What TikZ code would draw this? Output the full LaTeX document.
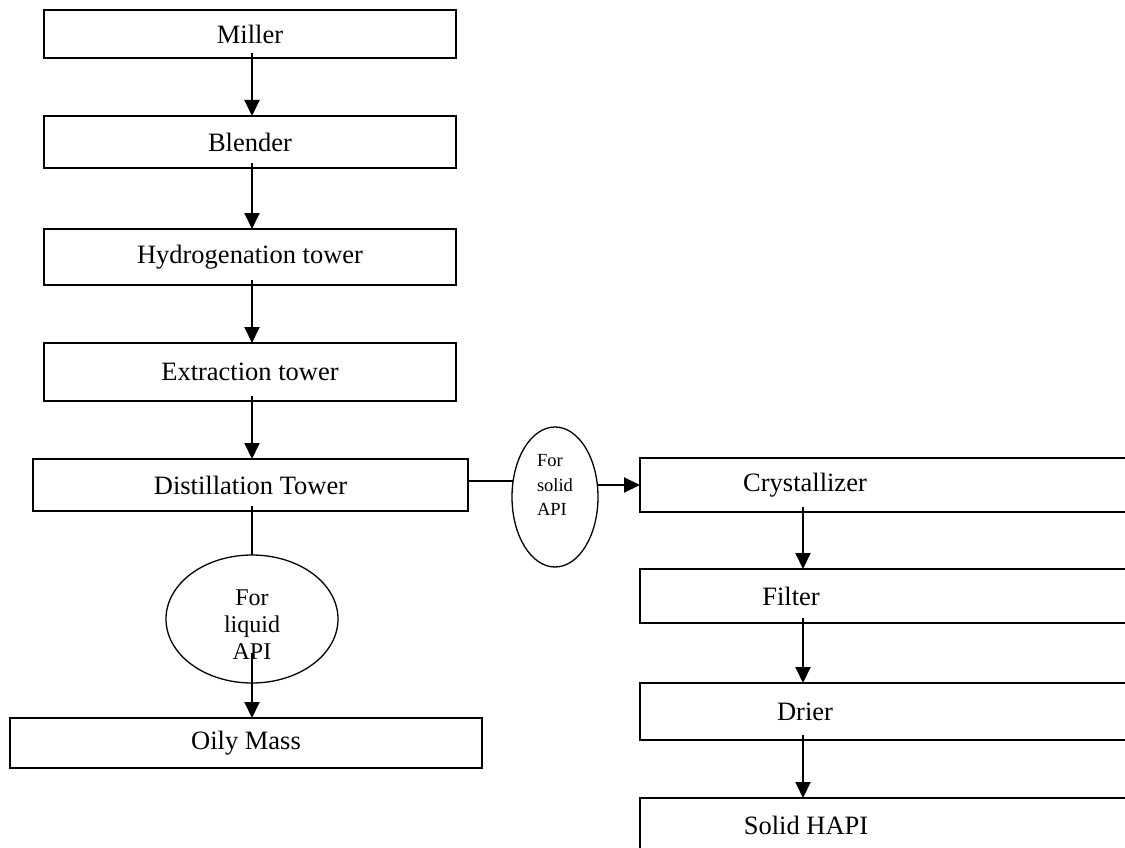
\documentclass[tikz,border=0pt]{standalone}
\usepackage{fontspec}
\setmainfont{Liberation Serif}
\usetikzlibrary{shapes.geometric,arrows.meta,calc}
\begin{document}
\begin{tikzpicture}[x=1pt,y=-1pt,
  box/.style={draw,line width=1.3pt,rectangle,inner sep=0pt,outer sep=0pt,
    font=\fontsize{26.5}{30}\selectfont},
  oval/.style={draw,line width=1.3pt,ellipse,inner sep=0pt,outer sep=0pt},
  plain/.style={line width=1.3pt},
  arr/.style={line width=2pt,-{Triangle[width=15pt,length=16pt]}}]
\useasboundingbox (0,0) rectangle (1125,848);
\clip (0,0) rectangle (1125,848);
% left column
\node[box,minimum width=412,minimum height=48] (miller) at (250,34) {Miller};
\node[box,minimum width=412,minimum height=52] (blender) at (250,142) {Blender};
\node[box,minimum width=412,minimum height=56] (hydro) at (250,257) {Hydrogenation tower};
\node[box,minimum width=412,minimum height=58] (extr) at (250,372) {Extraction tower};
\node[box,minimum width=435,minimum height=52] (dist) at (250.5,485) {Distillation Tower};
\node[box,minimum width=472,minimum height=50] (oily) at (246,743) {Oily Mass};
% ellipses
\node[oval,minimum width=172,minimum height=128,
  label={[align=center,font=\fontsize{24}{27}\selectfont,yshift=-6pt]center:For\\liquid\\API}] (liquid) at (252,619) {};
\node[oval,minimum width=86,minimum height=140,
  label={[align=left,font=\fontsize{18.5}{24.5}\selectfont,yshift=12pt]center:For\\solid\\API}] (solid) at (555,497) {};
% right column
\coordinate (rc) at (803,0);
\node[box,minimum width=490,minimum height=54,
  label={[font=\fontsize{26.5}{30}\selectfont,xshift=-80pt]center:Crystallizer}] (cryst) at (885,485) {};
\node[box,minimum width=490,minimum height=54,
  label={[font=\fontsize{26.5}{30}\selectfont,xshift=-94pt]center:Filter}] (filter) at (885,596) {};
\node[box,minimum width=490,minimum height=57,
  label={[font=\fontsize{26.5}{30}\selectfont,xshift=-80pt]center:Drier}] (drier) at (885,711.5) {};
\node[box,minimum width=490,minimum height=54,
  label={[font=\fontsize{26.5}{30}\selectfont,xshift=-79pt]center:Solid HAPI}] (hapi) at (885,825) {};
% connectors left
\draw[arr] ($(miller.south)+(2,-5)$) -- ($(blender.north)+(2,0)$);
\draw[arr] ($(blender.south)+(2,-5)$) -- ($(hydro.north)+(2,0)$);
\draw[arr] ($(hydro.south)+(2,-5)$) -- ($(extr.north)+(2,0)$);
\draw[arr] ($(extr.south)+(2,-5)$) -- ($(dist.north)+(1.5,0)$);
\draw[plain] ($(dist.south)+(1.5,-5)$) -- (liquid.north);
\coordinate (lq) at ($(liquid.center)+(0,34)$);
\draw[arr] (lq) -- (lq |- oily.north);
% connectors right
\draw[plain] ($(dist.east)+(0,-4)$) -- ($(dist.east -| solid.west)+(1,-4)$);
\draw[arr] (cryst.west -| solid.east) -- (cryst.west);
\draw[arr] ($(cryst.south -| rc)+(0,-5)$) -- (filter.north -| rc);
\draw[arr] ($(filter.south -| rc)+(0,-5)$) -- (drier.north -| rc);
\draw[arr] ($(drier.south -| rc)+(0,-5)$) -- (hapi.north -| rc);
\end{tikzpicture}
\end{document}
